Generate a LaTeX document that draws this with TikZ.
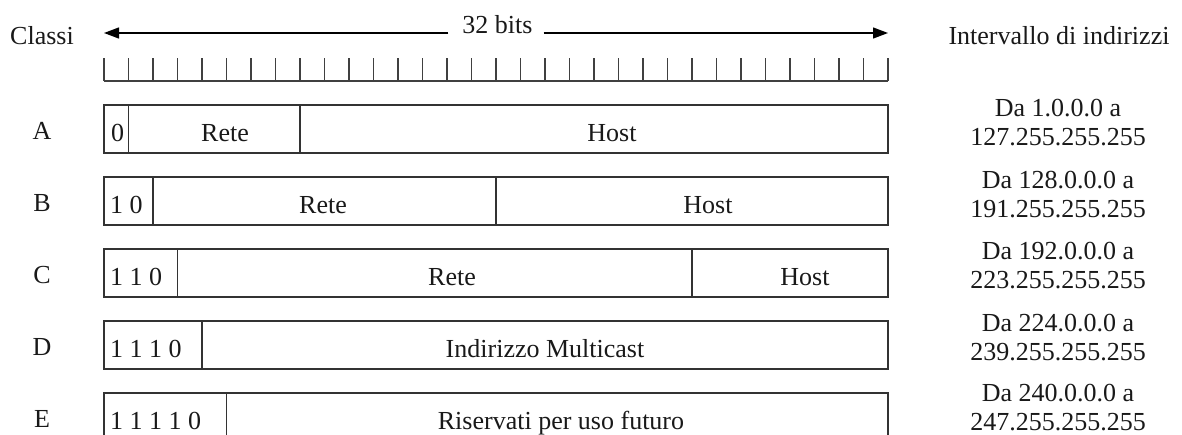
\documentclass[tikz,border=0pt]{standalone}
\usepackage{fontspec}
\setmainfont{Liberation Serif}
\usetikzlibrary{arrows.meta}
\begin{document}
\begin{tikzpicture}[x=1pt,y=-1pt,
  txt/.style={font=\fontsize{26}{30}\selectfont, inner sep=0pt, text=black!90, anchor=base},
  bitstxt/.style={txt, anchor=base west},
  field/.style={draw=black!80, line width=1.3pt},
  rulerline/.style={draw=black!75, line width=1.2pt},
  bitarrow/.style={draw=black, line width=1.3pt, -{Triangle[length=15pt,width=11pt]}}]
\useasboundingbox (0,0) rectangle (1182,434);
\clip (0,0) rectangle (1182,434);

% header
\node[txt] (classi) at (42,44) {Classi};
\node[txt] (interv) at (1059,44) {Intervallo di indirizzi};
\node[txt] (bits) at (497.5,33) {32 bits};
\coordinate (ltip) at (104,33);
\coordinate (rtip) at (888,33);
\draw[bitarrow] ([xshift=-14pt]bits.base west) -- (ltip);
\draw[bitarrow] ([xshift=11pt]bits.base east) -- (rtip);

% ruler
\draw[rulerline] (104,81) -- (888,81);
\foreach \i in {0,...,32}
  \draw[rulerline] ({104+\i*24.5},58) -- ({104+\i*24.5},81);

% rows: boxes
\foreach \t/\a/\b in {105/1/8, 177/2/16, 249/3/24, 321/4/32, 393/5/32} {
  \draw[field] (104,\t) rectangle (888,\t+48);
  \draw[field] ({104+\a*24.5},\t) -- ({104+\a*24.5},\t+48);
  \ifnum\b<32 \draw[field] ({104+\b*24.5},\t) -- ({104+\b*24.5},\t+48); \fi
}

% class letters
\node[txt] (cA) at (42,139) {A};
\node[txt] (cB) at (42,211) {B};
\node[txt] (cC) at (42,283) {C};
\node[txt] (cD) at (42,355) {D};
\node[txt] (cE) at (42,427) {E};

% row A
\node[txt] (a0) at (117.5,141) {0};
\node[txt] (aR) at (225,141) {Rete};
\node[txt] (aH) at (612,141) {Host};
% row B
\node[bitstxt] (b0) at (110,213) {1 0};
\node[txt] (bR) at (323,213) {Rete};
\node[txt] (bH) at (708,213) {Host};
% row C
\node[bitstxt] (c0) at (110,285) {1 1 0};
\node[txt] (cR) at (452,285) {Rete};
\node[txt] (cH) at (805,285) {Host};
% row D
\node[bitstxt] (d0) at (110,357) {1 1 1 0};
\node[txt] (dM) at (545,357) {Indirizzo Multicast};
% row E
\node[bitstxt] (e0) at (110,429) {1 1 1 1 0};
\node[txt] (eR) at (561,429) {Riservati per uso futuro};

% address ranges
\node[txt] (rA1) at (1058,116) {Da 1.0.0.0 a};
\node[txt] (rA2) at (1058,145.5) {127.255.255.255};
\node[txt] (rB1) at (1058,188) {Da 128.0.0.0 a};
\node[txt] (rB2) at (1058,217.5) {191.255.255.255};
\node[txt] (rC1) at (1058,259) {Da 192.0.0.0 a};
\node[txt] (rC2) at (1058,288.5) {223.255.255.255};
\node[txt] (rD1) at (1058,331) {Da 224.0.0.0 a};
\node[txt] (rD2) at (1058,360.5) {239.255.255.255};
\node[txt] (rE1) at (1058,401) {Da 240.0.0.0 a};
\node[txt] (rE2) at (1058,430) {247.255.255.255};
\end{tikzpicture}
\end{document}
